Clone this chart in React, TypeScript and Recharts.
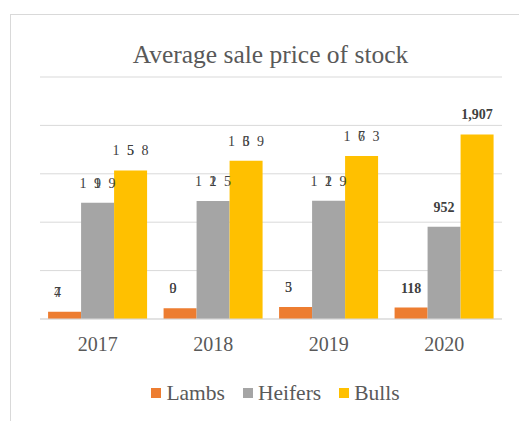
import { BarChart, Bar, XAxis, YAxis, CartesianGrid, LabelList } from 'recharts';

const years = ['2017', '2018', '2019', '2020'];
const lambs = [75, 112, 125, 118];
const heifers = [1200, 1219, 1222, 952];
const bulls = [1535, 1635, 1684, 1907];

// each label is a list of slots, each slot holds characters drawn on top of each other
const lambsLabels = [[['4', '7']], [['0', '9']], [['3', '5']], [['118']]];
const heifersLabels = [
  [['1'], ['1', '9'], ['9']],
  [['1'], ['1', '2'], ['5']],
  [['1'], ['1', '2'], ['9']],
  [['952']],
];
const bullsLabels = [
  [['1'], ['5', '5'], ['8']],
  [['1'], ['3', '6'], ['9']],
  [['1'], ['6', '7'], ['3']],
  [['1,907']],
];
const yTicks = [0, 500, 1000, 1500, 2000, 2500];

const FONT = '"Times New Roman", "Liberation Serif", serif';

const chartData = years.map((year, i) => ({
  year,
  lambs: lambs[i],
  heifers: heifers[i],
  bulls: bulls[i],
}));

const colors = { lambs: '#ED7D31', heifers: '#A5A5A5', bulls: '#FFC000' };

function makeLabel(labels: string[][][], shift: number) {
  return (props: any) => {
    const { x, y, width, index } = props;
    const slots = labels[index];
    if (!slots) return null;
    const last = index === years.length - 1;
    const cx = x + width / 2 + (last ? 0 : shift);
    const n = slots.length;
    return (
      <g>
        {slots.map((slot, si) =>
          slot.map((ch, ci) => (
            <text
              key={`${si}-${ci}`}
              x={cx + (si - (n - 1) / 2) * 14.5}
              y={y - 15}
              textAnchor="middle"
              fontFamily={FONT}
              fontSize={14}
              fontWeight={last ? 'bold' : 'normal'}
              fill="#404040"
            >
              {ch}
            </text>
          ))
        )}
      </g>
    );
  };
}

const legendItems = [
  { key: 'lambs', name: 'Lambs' },
  { key: 'heifers', name: 'Heifers' },
  { key: 'bulls', name: 'Bulls' },
];

export default function App() {
  return (
    <div style={{ position: 'absolute', left: 0, top: 0, width: 519, height: 421, background: '#fff', overflow: 'hidden' }}>
      <div
        style={{
          position: 'absolute',
          left: 10,
          top: 14,
          width: 520,
          height: 420,
          border: '1px solid #d9d9d9',
          boxSizing: 'border-box',
        }}
      />
      <div
        style={{
          position: 'absolute',
          left: 0,
          top: 40,
          width: 541,
          textAlign: 'center',
          fontFamily: FONT,
          fontSize: 25.5,
          color: '#595959',
          lineHeight: '30px',
        }}
      >
        Average sale price of stock
      </div>
      <div style={{ position: 'absolute', left: 0, top: 0 }}>
        <BarChart
          width={519}
          height={421}
          data={chartData}
          margin={{ top: 77, right: 17, left: 40, bottom: 72 }}
          barCategoryGap="7%"
          barGap={0}
        >
          <CartesianGrid vertical={false} stroke="#d9d9d9" />
          <YAxis hide domain={[0, 2500]} ticks={yTicks} />
          <XAxis
            dataKey="year"
            height={30}
            tickLine={false}
            axisLine={{ stroke: '#d9d9d9' }}
            tick={{ fontFamily: FONT, fontSize: 20, fill: '#595959' }}
            tickMargin={12}
          />
          <Bar dataKey="lambs" name="Lambs" fill={colors.lambs} isAnimationActive={false}>
            <LabelList dataKey="lambs" content={makeLabel(lambsLabels, -7)} />
          </Bar>
          <Bar dataKey="heifers" name="Heifers" fill={colors.heifers} isAnimationActive={false}>
            <LabelList dataKey="heifers" content={makeLabel(heifersLabels, 0)} />
          </Bar>
          <Bar dataKey="bulls" name="Bulls" fill={colors.bulls} isAnimationActive={false}>
            <LabelList dataKey="bulls" content={makeLabel(bullsLabels, 0)} />
          </Bar>
        </BarChart>
      </div>
      <div
        style={{
          position: 'absolute',
          left: 16,
          top: 380,
          width: 519,
          display: 'flex',
          justifyContent: 'center',
          gap: 18,
          fontFamily: FONT,
          fontSize: 21.5,
          color: '#595959',
          lineHeight: '26px',
        }}
      >
        {legendItems.map((it) => (
          <div key={it.key} style={{ display: 'flex', alignItems: 'center', gap: 5 }}>
            <span style={{ width: 10, height: 10, background: (colors as any)[it.key], display: 'inline-block' }} />
            <span>{it.name}</span>
          </div>
        ))}
      </div>
    </div>
  );
}
